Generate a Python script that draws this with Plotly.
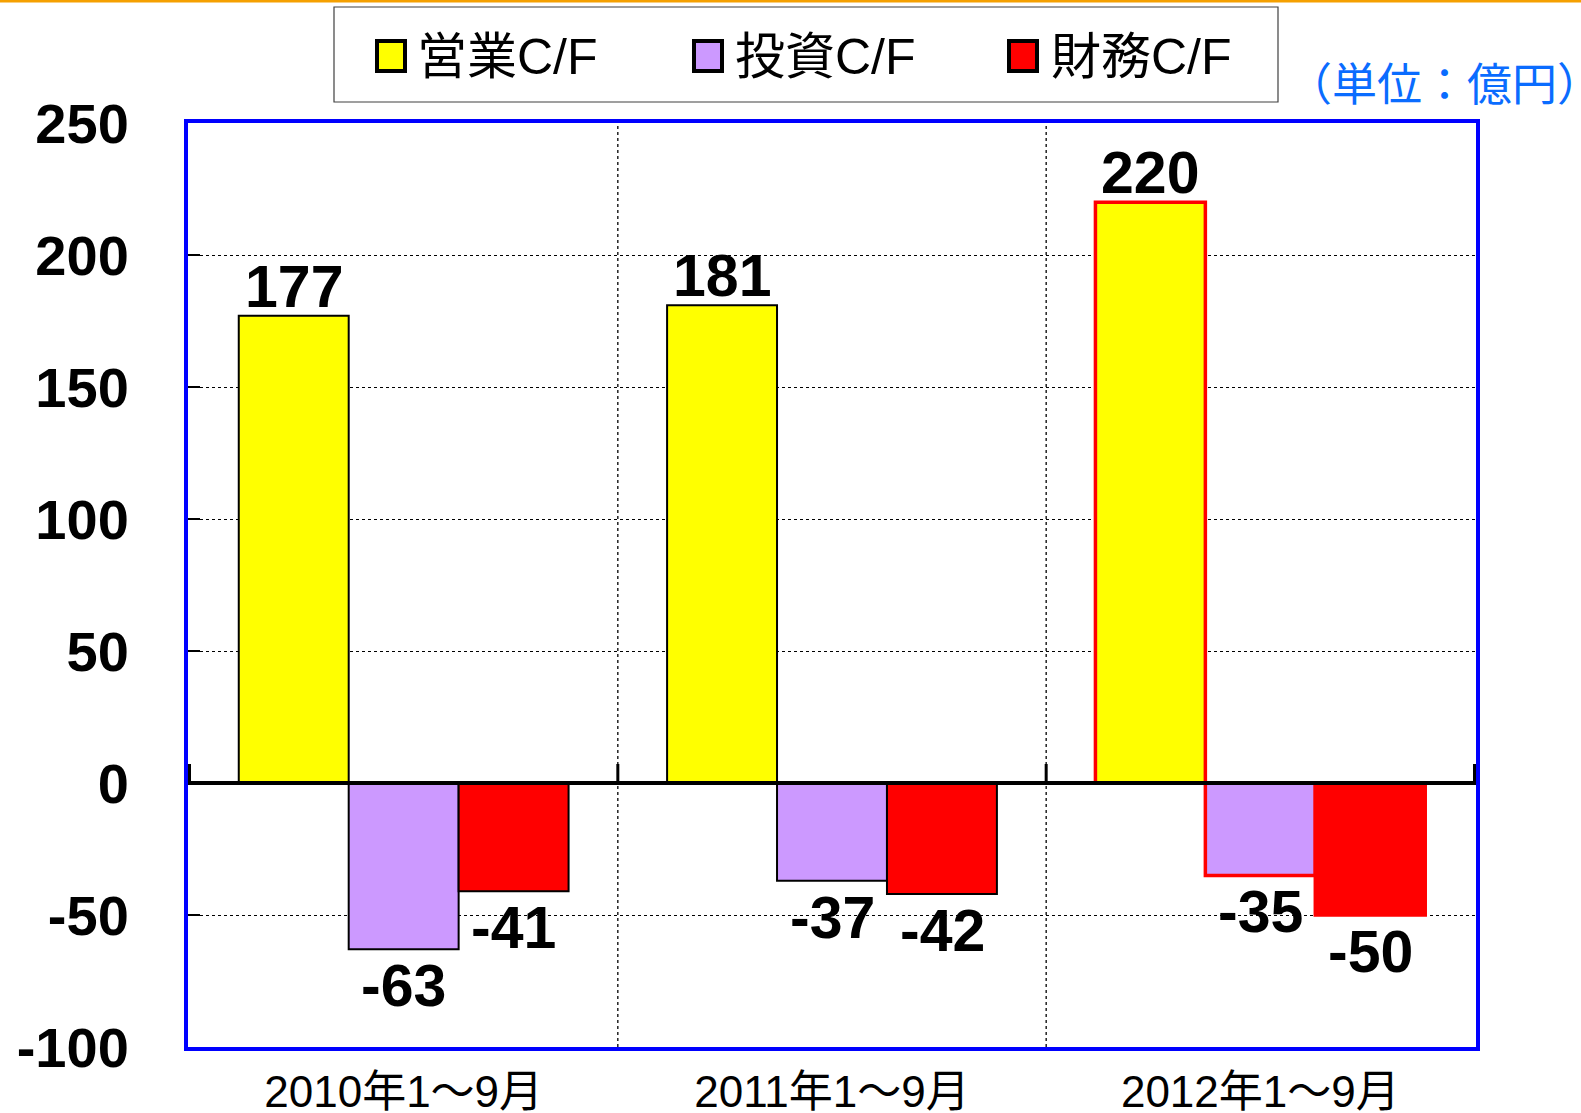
import plotly.graph_objects as go

# ---- data ----
categories = ["2010年1〜9月", "2011年1〜9月", "2012年1〜9月"]
series_names = ["営業C/F", "投資C/F", "財務C/F"]
operating_cf = [177, 181, 220]
investing_cf = [-63, -37, -35]
financing_cf = [-41, -42, -50]
y_ticks = [-100, -50, 0, 50, 100, 150, 200, 250]
unit_label = "（単位：億円）"

# ---- styles ----
fill_colors = ["#FFFF00", "#CC99FF", "#FF0000"]
outline_colors = ["#000000", "#000000", "#FF0000"]
outline_widths = [2, 2, 3.5]

W, H = 1581, 1113
L, R, T, B = 188, 105, 123, 66
PW, PH = W - L - R, H - T - B


def px(x):
    return (x - L) / PW


def py(y):
    return (H - B - y) / PH


series_values = [operating_cf, investing_cf, financing_cf]
fig = go.Figure()
for name, vals, col in zip(series_names, series_values, fill_colors):
    fig.add_trace(go.Bar(
        x=categories, y=vals, name=name,
        marker=dict(color=col, line=dict(color=outline_colors, width=outline_widths)),
        showlegend=False, hoverinfo="skip",
    ))

annotations = []
# value labels, placed through the axes' scales
n_series = len(series_names)
for s, vals in enumerate(series_values):
    for c, v in enumerate(vals):
        annotations.append(dict(
            x=categories[c], y=v, xref="x", yref="y",
            xshift=(s - (n_series - 1) / 2) * 110,
            yanchor="bottom" if v >= 0 else "top",
            yshift=-6 if v >= 0 else -2,
            text=str(v), showarrow=False,
            font=dict(family="Liberation Sans, Arial", size=59, color="black", weight="bold"),
        ))

shapes = []
# orange line at very top
shapes.append(dict(type="line", xref="paper", yref="paper", x0=px(0), x1=px(W), y0=py(1), y1=py(1),
                   line=dict(color="#F5A000", width=3)))
# vertical dotted separators between categories
for xb in [0.5, 1.5]:
    shapes.append(dict(type="line", xref="x", yref="paper", x0=xb, x1=xb, y0=0, y1=1,
                       line=dict(color="black", width=1.3, dash="dot"), layer="below"))
# zero line above bars
shapes.append(dict(type="line", xref="paper", yref="y", x0=0, x1=1, y0=0, y1=0,
                   line=dict(color="black", width=4), layer="above"))
# small category boundary ticks on zero line
for xb in [-0.5, 0.5, 1.5, 2.5]:
    shapes.append(dict(type="line", xref="x", yref="y", ysizemode="pixel", yanchor=0,
                       x0=xb, x1=xb, y0=0, y1=19, line=dict(color="black", width=3), layer="above"))
# custom legend box
shapes.append(dict(type="rect", xref="paper", yref="paper", x0=px(334), x1=px(1278), y0=py(7), y1=py(102),
                   line=dict(color="#404040", width=1.2), fillcolor="white"))
legend_marker_x = [377, 694, 1009]
legend_text_x = [415, 733, 1049]
for i, name in enumerate(series_names):
    mx = legend_marker_x[i]
    shapes.append(dict(type="rect", xref="paper", yref="paper", x0=px(mx), x1=px(mx + 28),
                       y0=py(41), y1=py(71), line=dict(color="black", width=4), fillcolor=fill_colors[i]))
    annotations.append(dict(xref="paper", yref="paper", x=px(legend_text_x[i]), y=py(57),
                            xanchor="left", yanchor="middle", text=name, showarrow=False,
                            font=dict(family="Liberation Sans, Noto Sans CJK JP", size=50, color="black")))
annotations.append(dict(xref="paper", yref="paper", x=px(1444), y=py(82), xanchor="center", yanchor="middle",
                        text=unit_label, showarrow=False,
                        font=dict(family="Noto Sans CJK JP", size=45, color="#0A6CFF")))

fig.update_layout(
    width=W, height=H,
    margin=dict(l=L, r=R, t=T, b=B, autoexpand=False),
    paper_bgcolor="white", plot_bgcolor="white",
    barmode="group", bargap=0.23, bargroupgap=0,
    shapes=shapes, annotations=annotations,
    showlegend=False,
)
fig.update_xaxes(
    type="category", automargin=False,
    showgrid=False,
    showline=True, mirror=True, linecolor="#0000FF", linewidth=4,
    ticks="", ticklabelstandoff=3,
    tickfont=dict(family="Liberation Sans, Noto Sans CJK JP", size=44, color="black"),
)
fig.update_yaxes(
    range=[-100, 250], tickvals=y_ticks, ticktext=[str(v) for v in y_ticks],
    automargin=False,
    showgrid=True, gridcolor="black", griddash="dot", gridwidth=1.3,
    zeroline=False,
    showline=True, mirror=True, linecolor="#0000FF", linewidth=4,
    ticks="inside", ticklen=12, tickwidth=2, tickcolor="black",
    ticklabelstandoff=44,
    tickfont=dict(family="Liberation Sans, Arial", size=56, color="black", weight="bold"),
)

fig.write_html("out.html", config={"displayModeBar": False},
               post_script="document.body.style.margin='0';document.body.style.overflow='hidden';")
